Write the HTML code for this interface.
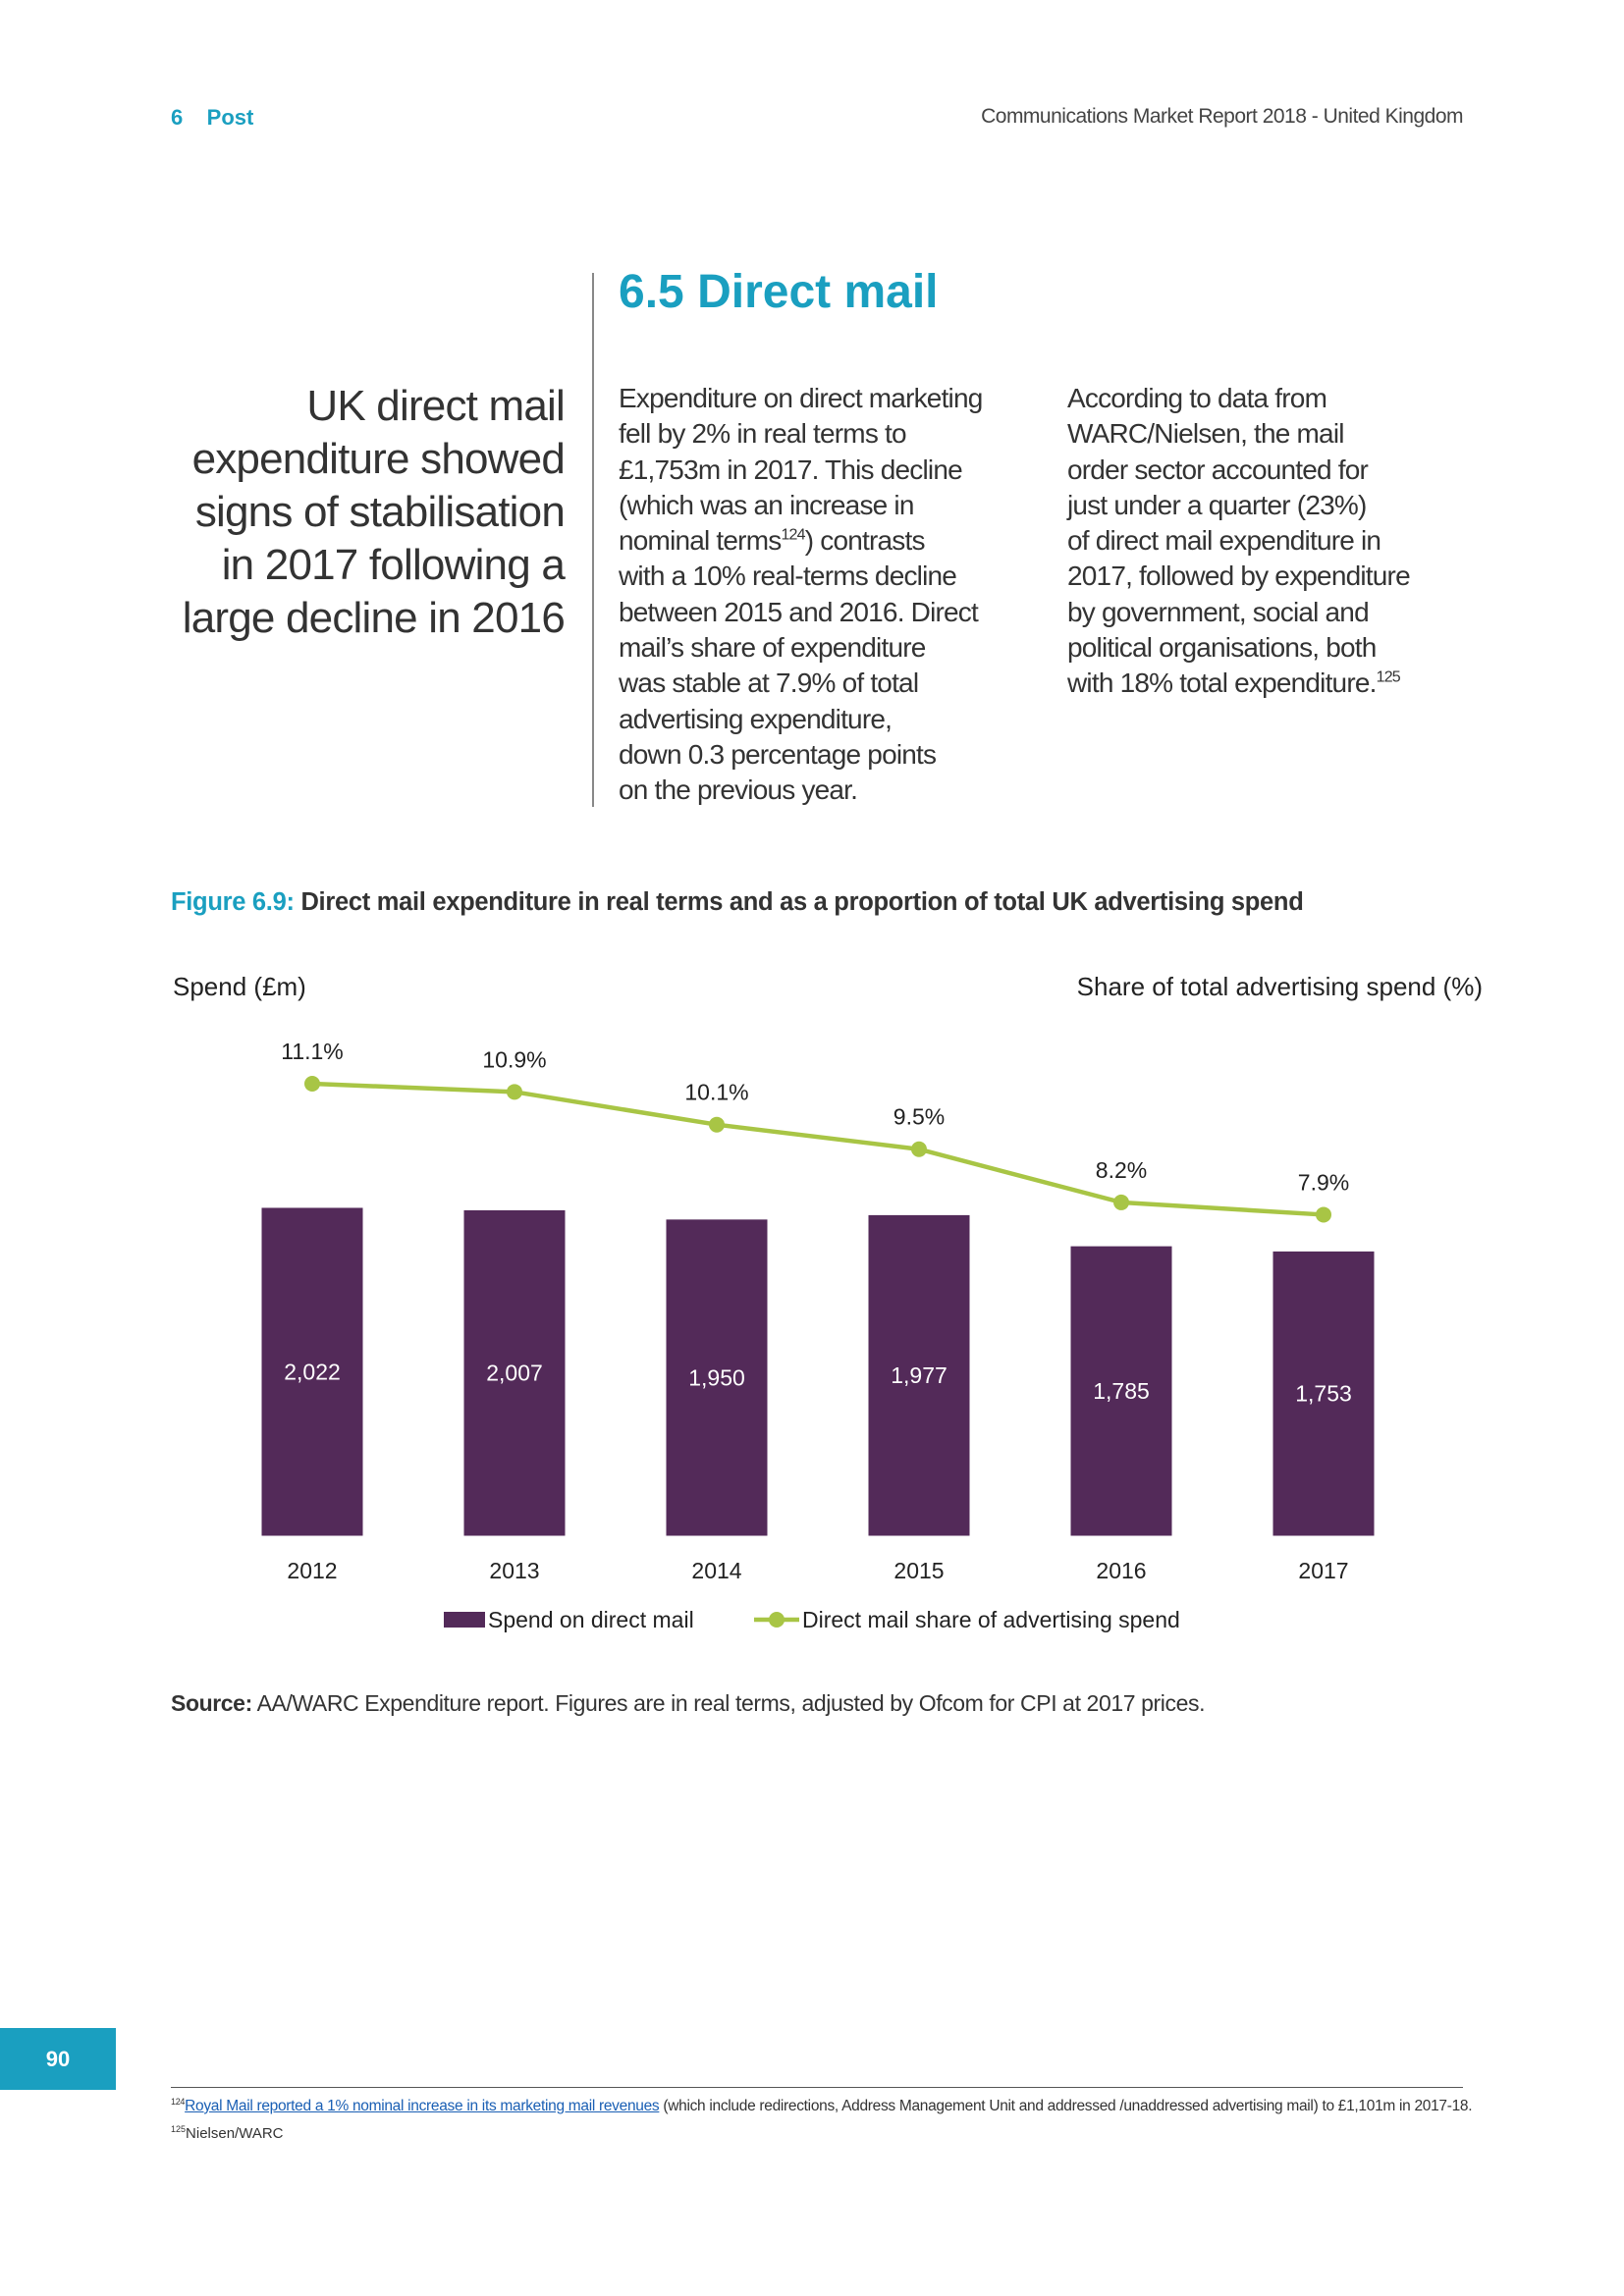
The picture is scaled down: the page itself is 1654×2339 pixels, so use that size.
<!DOCTYPE html>
<html><head><meta charset="utf-8"><style>
body{margin:0;width:1654px;height:2339px;background:#fff;position:relative;font-family:"Liberation Sans",sans-serif;color:#333;overflow:hidden}
.a{position:absolute;white-space:nowrap}
.q{font-size:44px;line-height:54px;text-align:right;color:#333;letter-spacing:-0.8px}
.b{font-size:28px;line-height:36.3px;letter-spacing:-0.8px;color:#333}
</style></head><body>
<div class="a" style="left:174px;top:107px;font-size:22px;font-weight:bold;color:#1a9fc0">6&nbsp;&nbsp;&nbsp;&nbsp;Post</div>
<div class="a" style="right:164px;top:107px;font-size:21px;color:#444;letter-spacing:-0.5px">Communications Market Report 2018 - United Kingdom</div>
<div class="a" style="left:630px;top:270px;font-size:48px;font-weight:bold;color:#1a9fc0">6.5 Direct mail</div>
<div class="a" style="left:603px;top:278px;width:2px;height:544px;background:#888"></div>
<div class="a q" style="right:1079px;top:387px">UK direct mail<br>expenditure showed<br>signs of stabilisation<br>in 2017 following a<br>large decline in 2016</div>
<div class="a b" style="left:630px;top:388px">Expenditure on direct marketing<br>fell by 2% in real terms to<br>£1,753m in 2017. This decline<br>(which was an increase in<br>nominal terms<sup style="font-size:16px;line-height:0">124</sup>) contrasts<br>with a 10% real-terms decline<br>between 2015 and 2016. Direct<br>mail’s share of expenditure<br>was stable at 7.9% of total<br>advertising expenditure,<br>down 0.3 percentage points<br>on the previous year.</div>
<div class="a b" style="left:1087px;top:388px">According to data from<br>WARC/Nielsen, the mail<br>order sector accounted for<br>just under a quarter (23%)<br>of direct mail expenditure in<br>2017, followed by expenditure<br>by government, social and<br>political organisations, both<br>with 18% total expenditure.<sup style="font-size:16px;line-height:0">125</sup></div>
<div class="a" style="left:174px;top:905px;font-size:25.5px;font-weight:bold;color:#333;letter-spacing:-0.3px"><span style="color:#1a9fc0">Figure 6.9:</span> Direct mail expenditure in real terms and as a proportion of total UK advertising spend</div>
<svg class="a" style="left:0;top:0" width="1654" height="1700" id="chart"></svg>
<div class="a" style="left:174px;top:1722px;font-size:23px;letter-spacing:-0.4px"><b>Source:</b> AA/WARC Expenditure report. Figures are in real terms, adjusted by Ofcom for CPI at 2017 prices.</div>
<div class="a" style="left:0;top:2066px;width:118px;height:63px;background:#1a9fc0;color:#fff;font-weight:bold;font-size:22px;line-height:63px;text-align:center">90</div>
<div class="a" style="left:174px;top:2126px;width:1316px;height:1px;background:#555"></div>
<div class="a" style="left:174px;top:2136px;font-size:15.5px;letter-spacing:-0.3px"><sup style="font-size:9px">124</sup><a style="color:#1a5fb4;text-decoration:underline">Royal Mail reported a 1% nominal increase in its marketing mail revenues</a> (which include redirections, Address Management Unit and addressed /unaddressed advertising mail) to £1,101m in 2017-18.</div>
<div class="a" style="left:174px;top:2164px;font-size:15px"><sup style="font-size:9px">125</sup>Nielsen/WARC</div>
<script>
const years=["2012","2013","2014","2015","2016","2017"];
const spend=[2022,2007,1950,1977,1785,1753];
const share=[11.1,10.9,10.1,9.5,8.2,7.9];
const ns="http://www.w3.org/2000/svg";
const svg=document.getElementById('chart');
const x0=318,dx=206,base=1564.5,bw=103;
const xs=i=>x0+i*dx;
const ys=v=>base-v*0.1652;
const yp=v=>1104+(11.1-v)*41.7;
function mk(t,a,txt){const e=document.createElementNS(ns,t);for(const k in a)e.setAttribute(k,a[k]);if(txt!=null)e.textContent=txt;svg.appendChild(e);return e;}
const F='"Liberation Sans",sans-serif';
let t=mk('text',{x:176,y:1014,'font-size':26,'font-family':F,fill:'#222'},'Spend (£m)');

t=mk('text',{x:1510,y:1014,'font-size':26,'font-family':F,fill:'#222','text-anchor':'end'},'Share of total advertising  spend (%)');

spend.forEach((v,i)=>{
 const r=mk('rect',{x:xs(i)-bw/2,y:ys(v),width:bw,height:base-ys(v),fill:'#532a59'});
 
 const l=mk('text',{x:xs(i),y:(ys(v)+base)/2+8,'font-size':23,'font-family':F,fill:'#fff','text-anchor':'middle'},v.toLocaleString('en-GB'));
 
 const y=mk('text',{x:xs(i),y:1608,'font-size':23,'font-family':F,fill:'#222','text-anchor':'middle'},years[i]);
 
});
const pl=mk('polyline',{points:share.map((v,i)=>xs(i)+','+yp(v)).join(' '),fill:'none',stroke:'#a8c545','stroke-width':4.5});

share.forEach((v,i)=>{
 const c=mk('circle',{cx:xs(i),cy:yp(v),r:8,fill:'#a8c545'});
 
 const l=mk('text',{x:xs(i),y:yp(v)-25,'font-size':23,'font-family':F,fill:'#222','text-anchor':'middle'},v.toFixed(1)+'%');
 
});
const lr=mk('rect',{x:452,y:1642,width:42,height:16,fill:'#532a59'});

t=mk('text',{x:497,y:1658,'font-size':23,'font-family':F,fill:'#222'},'Spend on direct mail');

const ll=mk('line',{x1:768,y1:1650,x2:814,y2:1650,stroke:'#a8c545','stroke-width':4.5});

const lc=mk('circle',{cx:791,cy:1650,r:8,fill:'#a8c545'});

t=mk('text',{x:817,y:1658,'font-size':23,'font-family':F,fill:'#222'},'Direct mail share of advertising spend');

</script>
</body></html>
